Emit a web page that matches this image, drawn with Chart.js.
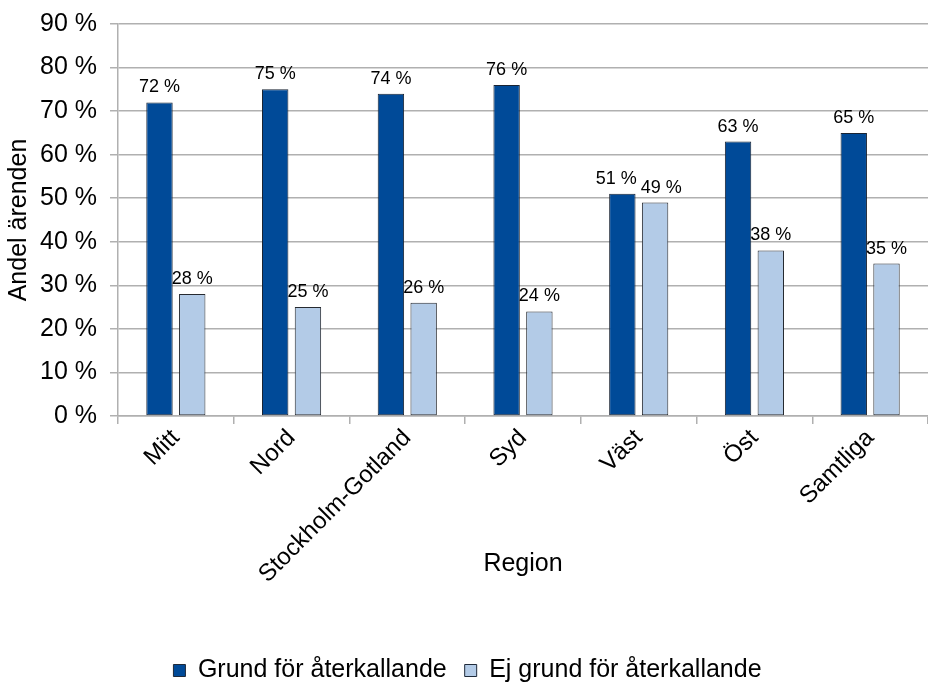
<!DOCTYPE html>
<html lang="sv">
<head>
<meta charset="utf-8">
<title>Andel ärenden per region</title>
<script src="https://cdn.jsdelivr.net/npm/chart.js@4/dist/chart.umd.min.js"></script>
<style>
  html, body { margin: 0; padding: 0; background: #ffffff; }
  #wrap { width: 928px; height: 685px; position: relative; }
</style>
</head>
<body>
<div id="wrap"><canvas id="chart"></canvas></div>
<script>
// Regions and shares (percent) of cases
const regions = ['Mitt', 'Nord', 'Stockholm-Gotland', 'Syd', 'Väst', 'Öst', 'Samtliga'];
const grundValues = [72, 75, 74, 76, 51, 63, 65];
const ejGrundValues = [28, 25, 26, 24, 49, 38, 35];
const seriesNames = ['Grund för återkallande', 'Ej grund för återkallande'];
const yTicks = [0, 10, 20, 30, 40, 50, 60, 70, 80, 90];

const FONT = '"Liberation Sans", Arial, Helvetica, sans-serif';
const GRID = '#b0b0b0';

// Value labels above each bar, pushed apart when two labels in a group collide
const valueLabels = {
  id: 'valueLabels',
  afterDatasetsDraw(chart) {
    const ctx = chart.ctx;
    ctx.save();
    ctx.font = '18px ' + FONT;
    ctx.fillStyle = '#000';
    ctx.textAlign = 'center';
    ctx.textBaseline = 'alphabetic';
    const metas = chart.data.datasets.map((d, i) => chart.getDatasetMeta(i));
    for (let j = 0; j < regions.length; j++) {
      const items = metas.map((m, i) => {
        const el = m.data[j];
        const text = chart.data.datasets[i].data[j] + ' %';
        const w = ctx.measureText(text).width;
        return { text, x: el.x, y: el.y - 10, w };
      });
      for (let k = 0; k < items.length - 1; k++) {
        const a = items[k], b = items[k + 1];
        const overlap = (a.x + a.w / 2) - (b.x - b.w / 2) + 4;
        if (overlap > 0 && Math.abs(a.y - b.y) < 20) {
          a.x -= overlap / 2;
          b.x += overlap / 2;
        }
      }
      items.forEach(it => ctx.fillText(it.text, it.x, it.y));
    }
    ctx.restore();
  }
};

// Horizontal axis title, centred under the plot area
const xTitle = {
  id: 'xTitle',
  afterDraw(chart) {
    const { ctx, chartArea } = chart;
    ctx.save();
    ctx.font = '25px ' + FONT;
    ctx.fillStyle = '#000';
    ctx.textAlign = 'center';
    ctx.textBaseline = 'middle';
    ctx.fillText('Region', (chartArea.left + chartArea.right) / 2, chartArea.bottom + 148);
    ctx.restore();
  }
};

new Chart(document.getElementById('chart'), {
  type: 'bar',
  data: {
    labels: regions,
    datasets: [
      {
        label: seriesNames[0],
        data: grundValues,
        backgroundColor: '#004a98',
        borderColor: '#1a2433',
        borderWidth: 1,
        borderSkipped: false,
        categoryPercentage: 0.566,
        barPercentage: 0.806
      },
      {
        label: seriesNames[1],
        data: ejGrundValues,
        backgroundColor: '#b3cbe7',
        borderColor: '#262a30',
        borderWidth: 1,
        borderSkipped: false,
        categoryPercentage: 0.566,
        barPercentage: 0.806
      }
    ]
  },
  options: {
    responsive: true,
    maintainAspectRatio: false,
    animation: false,
    layout: { padding: { top: 0, right: -7, left: 0, bottom: -8 } },
    plugins: {
      legend: {
        position: 'bottom',
        labels: {
          font: { family: FONT, size: 25 },
          color: '#000',
          boxWidth: 12,
          boxHeight: 12,
          padding: 18,
          generateLabels(chart) {
            return chart.data.datasets.map((ds, i) => ({
              text: ds.label,
              fillStyle: ds.backgroundColor,
              strokeStyle: '#1f2a3a',
              lineWidth: 1,
              datasetIndex: i,
              fontColor: '#000'
            }));
          }
        }
      },
      tooltip: { enabled: false }
    },
    scales: {
      x: {
        grid: {
          display: true,
          offset: true,
          drawOnChartArea: false,
          drawTicks: true,
          tickLength: 8,
          color: GRID,
          lineWidth: 1.5
        },
        border: { display: true, color: GRID, width: 1.5 },
        ticks: {
          font: { family: FONT, size: 24 },
          color: '#000',
          maxRotation: 45,
          minRotation: 45,
          autoSkip: false,
          padding: 0
        },
        afterFit(scale) { scale.height = 224; }
      },
      y: {
        min: 0,
        max: 90,
        afterBuildTicks(scale) { scale.ticks = yTicks.map(v => ({ value: v })); },
        grid: {
          color: GRID,
          lineWidth: 1.5,
          tickLength: 8,
          drawTicks: true
        },
        border: { display: true, color: GRID, width: 1.5 },
        ticks: {
          font: { family: FONT, size: 25 },
          color: '#000',
          padding: 13,
          callback: v => v + ' %'
        },
        title: {
          display: true,
          text: 'Andel ärenden',
          font: { family: FONT, size: 25 },
          color: '#000',
          padding: { top: 4, bottom: 0 }
        },
        afterFit(scale) {
          scale.width = 118;
          scale.paddingTop = 24;
        }
      }
    }
  },
  plugins: [valueLabels, xTitle]
});
</script>
</body>
</html>
